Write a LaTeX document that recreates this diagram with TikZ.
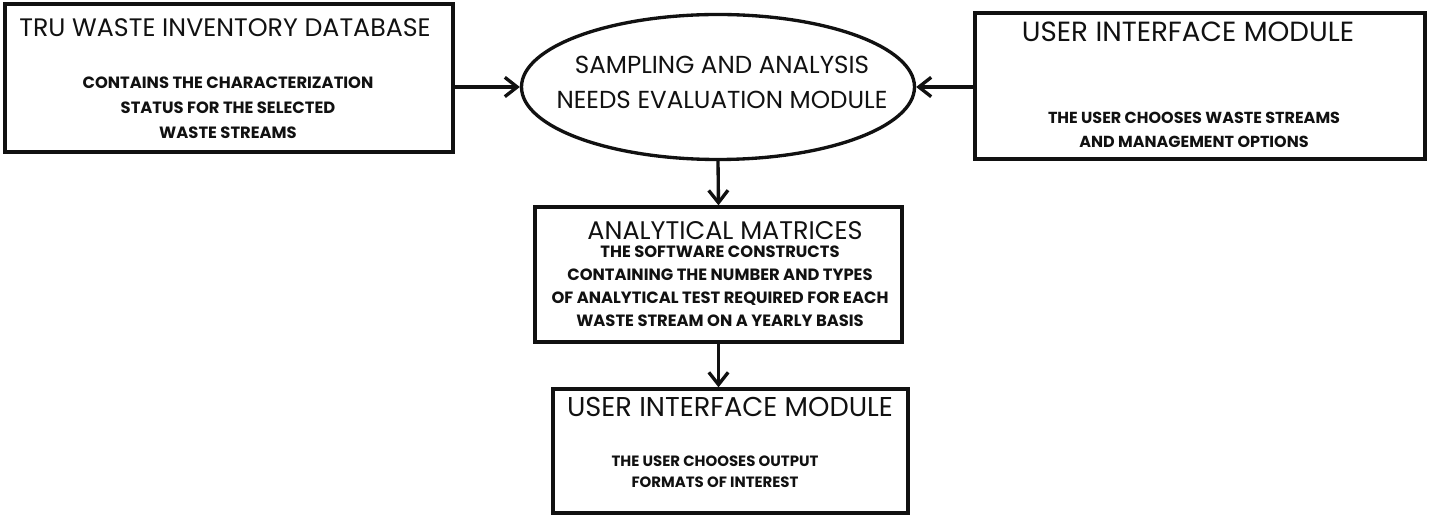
\documentclass[tikz,border=0pt]{standalone}
\usepackage{fontspec}
\setmainfont{Poppins}
\usepackage{tikz}
\usetikzlibrary{arrows.meta, positioning, calc, shapes.geometric}
\definecolor{inkblack}{HTML}{111111}

\tikzset{
  module/.style={draw=inkblack, line width=1.9pt, rectangle, inner sep=0pt},
  evalshape/.style={draw=inkblack, line width=1.9pt, ellipse, inner sep=0pt},
  headtext/.style={inner sep=0pt, inkblack},
  bodytext/.style={inner sep=0pt, inkblack, align=center},
  flow/.style={draw=inkblack, line width=1.9pt, -{Straight Barb[length=7pt,width=11pt,line width=1.9pt]}}
}

\begin{document}
\begin{tikzpicture}[x=0.02cm, y=-0.02cm]
  \useasboundingbox (0,0) rectangle (1429,516);

  % boxes
  \node[module, minimum width=448*0.02cm, minimum height=148*0.02cm] (tru) at (229,78) {};
  \node[module, minimum width=450*0.02cm, minimum height=146*0.02cm] (uimin) at (1200,86) {};
  \node[evalshape, minimum width=393*0.02cm, minimum height=145*0.02cm] (evalmod) at (718,87) {};
  \node[module, minimum width=367*0.02cm, minimum height=135*0.02cm] (matrices) at (718.5,274.5) {};
  \node[module, minimum width=355*0.02cm, minimum height=124*0.02cm] (uiout) at (730.5,451) {};

  % texts
  \node[headtext, font=\fontsize{14.4}{16}\selectfont] (trutitle) at (225,28) {TRU WASTE INVENTORY DATABASE};
  \node[bodytext, font=\bfseries\fontsize{9.3}{14.2}\selectfont] (trubody) at (228,108)
    {CONTAINS THE CHARACTERIZATION\\STATUS FOR THE SELECTED\\WASTE STREAMS};

  \node[headtext, font=\fontsize{15.8}{17}\selectfont] (uimintitle) at (1188,32) {USER INTERFACE MODULE};
  \node[bodytext, font=\bfseries\fontsize{9.1}{13.6}\selectfont] (uiminbody) at (1194,130)
    {THE USER CHOOSES WASTE STREAMS\\AND MANAGEMENT OPTIONS};

  \node[bodytext, font=\fontsize{14}{20}\selectfont] (evaltext) at (722,82)
    {SAMPLING AND ANALYSIS\\NEEDS EVALUATION MODULE};

  \node[headtext, font=\fontsize{14.5}{16}\selectfont] (matricestitle) at (725,231) {ANALYTICAL MATRICES};
  \node[bodytext, font=\bfseries\fontsize{9.3}{13.1}\selectfont] (matricesbody) at (720,286)
    {THE SOFTWARE CONSTRUCTS\\CONTAINING THE NUMBER AND TYPES\\OF ANALYTICAL TEST REQUIRED FOR EACH\\WASTE STREAM ON A YEARLY BASIS};

  \node[headtext, font=\fontsize{15.5}{17}\selectfont] (uiouttitle) at (730,407) {USER INTERFACE MODULE};
  \node[bodytext, font=\bfseries\fontsize{8.5}{12}\selectfont] (uioutbody) at (715,472)
    {THE USER CHOOSES OUTPUT\\FORMATS OF INTEREST};

  % connectors
  \draw[flow] (evalmod.west -| tru.east) -- (evalmod.west);
  \draw[flow] (evalmod.east -| uimin.west) -- (evalmod.east);
  \draw[flow] (evalmod.south) -- (matrices.north);
  \draw[flow] (matrices.south) -- (matrices.south |- uiout.north);
\end{tikzpicture}
\end{document}
